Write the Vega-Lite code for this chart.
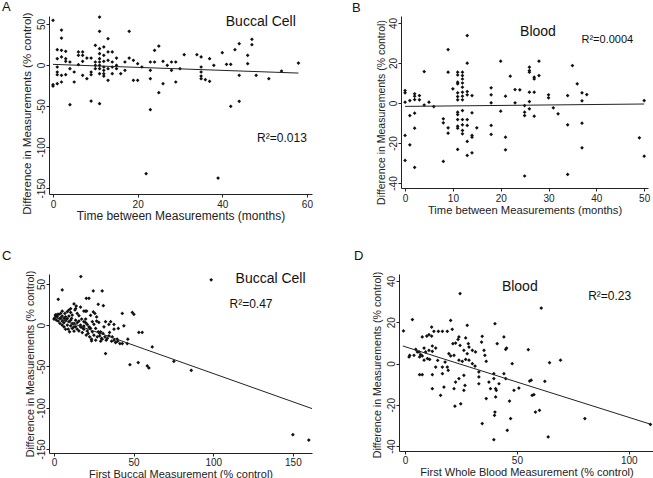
{
"$schema":"https://vega.github.io/schema/vega-lite/v6.json",
"padding":{"left":2,"top":0,"right":0,"bottom":0},
"background":"white",
"config":{
 "view":{"stroke":null},
 "font":"Liberation Sans",
 "axis":{"grid":false,"domainColor":"#222","tickColor":"#222","labelFont":"Liberation Sans","titleFont":"Liberation Sans","labelFontSize":10,"titleFontSize":12,"titleFontWeight":"normal","labelColor":"#222","titleColor":"#222","tickSize":3,"labelExpr":"datum.value + ''"},
 "axisY":{"labelAngle":270,"labelAlign":"center","labelBaseline":"bottom","labelPadding":0,"titleBaseline":"middle","titleAngle":270},
 "axisX":{"titlePadding":1,"labelPadding":2},
 "title":{"font":"Liberation Sans","fontSize":13,"fontWeight":"normal","anchor":"start","frame":"group","color":"#111","baseline":"bottom"},
 "text":{"font":"Liberation Sans","color":"#111"}
},
"datasets":{
"a":[{"x":0,"y":54.5},{"x":0,"y":-24},{"x":0,"y":-25.6},{"x":1,"y":18.7},{"x":1,"y":7.7},{"x":1,"y":-2.4},{"x":1,"y":-8.5},{"x":1,"y":-11.8},{"x":1,"y":-22.8},{"x":2,"y":42.7},{"x":2,"y":32.9},{"x":2,"y":17.9},{"x":2,"y":9.8},{"x":2,"y":-12.6},{"x":2,"y":-20.7},{"x":3,"y":16.7},{"x":3,"y":7.7},{"x":3,"y":4.5},{"x":3,"y":-11.8},{"x":4,"y":3.7},{"x":4,"y":-4.5},{"x":4,"y":-48.4},{"x":5,"y":-8.5},{"x":5,"y":-20.7},{"x":6,"y":0.4},{"x":6,"y":15.9},{"x":6,"y":11.8},{"x":7,"y":15.9},{"x":7,"y":11.8},{"x":7,"y":4.5},{"x":7,"y":-12.6},{"x":8,"y":-16.7},{"x":8,"y":8.5},{"x":9,"y":8.5},{"x":9,"y":-8.5},{"x":9,"y":-11.8},{"x":9,"y":-43.9},{"x":10,"y":24},{"x":10,"y":3.7},{"x":10,"y":-0.4},{"x":10,"y":-4.5},{"x":11,"y":58.5},{"x":11,"y":41.1},{"x":11,"y":19.9},{"x":11,"y":13.8},{"x":11,"y":7.7},{"x":11,"y":3.7},{"x":11,"y":-0.4},{"x":11,"y":-4.5},{"x":11,"y":-10.6},{"x":11,"y":-47.2},{"x":12,"y":22},{"x":12,"y":11.8},{"x":12,"y":4.5},{"x":12,"y":-2.4},{"x":12,"y":-6.5},{"x":12,"y":-10.6},{"x":12,"y":-13.4},{"x":13,"y":32.1},{"x":13,"y":15.9},{"x":13,"y":5.7},{"x":13,"y":-4.5},{"x":13,"y":-18.7},{"x":14,"y":15.9},{"x":14,"y":3.7},{"x":14,"y":-2.4},{"x":14,"y":-10.6},{"x":15,"y":8.5},{"x":15,"y":-0.4},{"x":15,"y":-4.5},{"x":16,"y":-10.6},{"x":17,"y":3.7},{"x":17,"y":-6.5},{"x":18,"y":41.1},{"x":18,"y":8.5},{"x":19,"y":5.7},{"x":19,"y":-18.7},{"x":20,"y":1.6},{"x":20,"y":-18.7},{"x":21,"y":-2.4},{"x":22,"y":-132.5},{"x":23,"y":-16.7},{"x":23,"y":-6.5},{"x":23,"y":3.7},{"x":23,"y":-54.5},{"x":24,"y":17.9},{"x":24,"y":3.7},{"x":25,"y":23.2},{"x":25,"y":-33.7},{"x":26,"y":4.5},{"x":26,"y":-22.8},{"x":27,"y":-0.4},{"x":28,"y":3.7},{"x":28,"y":-6.5},{"x":29,"y":3.7},{"x":29,"y":-20.7},{"x":30,"y":-4.5},{"x":31,"y":12.6},{"x":34,"y":12.6},{"x":35,"y":9.8},{"x":35,"y":-2.4},{"x":35,"y":-8.5},{"x":35,"y":-13.4},{"x":35,"y":-16.7},{"x":36,"y":-17.9},{"x":37,"y":7.7},{"x":37,"y":-19.9},{"x":38,"y":-0.4},{"x":39,"y":-137.8},{"x":40,"y":15},{"x":41,"y":0.8},{"x":42,"y":0.8},{"x":42,"y":-50.4},{"x":43,"y":18.7},{"x":44,"y":26},{"x":44,"y":-12.6},{"x":44,"y":-44.3},{"x":46,"y":11.8},{"x":46,"y":1.6},{"x":47,"y":31.3},{"x":47,"y":24.8},{"x":48,"y":-12.6},{"x":51,"y":-16.7},{"x":54,"y":-7.3},{"x":58,"y":2.4}],
"b":[{"x":0,"y":6.2},{"x":0,"y":5.1},{"x":0,"y":0.4},{"x":0,"y":-16.2},{"x":0,"y":-28.7},{"x":1,"y":1.2},{"x":1,"y":-6.3},{"x":1,"y":-20.9},{"x":2,"y":4.6},{"x":2,"y":3.4},{"x":2,"y":1.7},{"x":2,"y":-5.1},{"x":2,"y":-12.6},{"x":2,"y":-32.2},{"x":3,"y":3.7},{"x":3,"y":1.6},{"x":4,"y":15.7},{"x":4,"y":-1},{"x":5,"y":0.4},{"x":6,"y":-1.8},{"x":8,"y":-7.9},{"x":8,"y":-9.9},{"x":8,"y":-29.2},{"x":9,"y":26.7},{"x":9,"y":15.4},{"x":9,"y":-12.4},{"x":9,"y":-15.1},{"x":10,"y":7.1},{"x":11,"y":15.4},{"x":11,"y":14},{"x":11,"y":10.4},{"x":11,"y":9.6},{"x":11,"y":5.1},{"x":11,"y":3.2},{"x":11,"y":1.6},{"x":11,"y":-4.6},{"x":11,"y":-5.8},{"x":11,"y":-8.3},{"x":11,"y":-11.6},{"x":11,"y":-12.6},{"x":11,"y":-23.2},{"x":12,"y":15.4},{"x":12,"y":13.7},{"x":12,"y":12},{"x":12,"y":10},{"x":12,"y":7.9},{"x":12,"y":5.4},{"x":12,"y":3.4},{"x":12,"y":1.6},{"x":12,"y":-3.8},{"x":12,"y":-8.3},{"x":12,"y":-10.9},{"x":12,"y":-13.7},{"x":12,"y":-15.4},{"x":13,"y":33.7},{"x":13,"y":19.9},{"x":13,"y":5.7},{"x":13,"y":4.1},{"x":13,"y":-8.3},{"x":13,"y":-11.2},{"x":13,"y":-19.2},{"x":13,"y":-26.2},{"x":14,"y":3.7},{"x":14,"y":-4.9},{"x":14,"y":-16.2},{"x":14,"y":-17.1},{"x":14,"y":-24.9},{"x":15,"y":-12.4},{"x":18,"y":7.6},{"x":18,"y":4.1},{"x":18,"y":0.1},{"x":18,"y":-11.2},{"x":18,"y":-15.7},{"x":20,"y":20.9},{"x":20,"y":-4.1},{"x":21,"y":3.4},{"x":21,"y":-17.1},{"x":21,"y":-23.4},{"x":22,"y":13.4},{"x":23,"y":6.7},{"x":23,"y":0.1},{"x":24,"y":6.6},{"x":25,"y":-1.3},{"x":25,"y":-4.6},{"x":25,"y":-6.3},{"x":25,"y":-36.5},{"x":26,"y":17.9},{"x":26,"y":16.2},{"x":26,"y":15.4},{"x":26,"y":5.4},{"x":26,"y":0.7},{"x":26,"y":-2.9},{"x":27,"y":12.9},{"x":27,"y":12},{"x":27,"y":5.4},{"x":27,"y":-6.6},{"x":28,"y":20.9},{"x":28,"y":13.7},{"x":30,"y":4.1},{"x":30,"y":2.6},{"x":31,"y":-2.4},{"x":32,"y":-5.4},{"x":34,"y":3.7},{"x":34,"y":-10.9},{"x":34,"y":-35.7},{"x":35,"y":18.7},{"x":36,"y":9.6},{"x":37,"y":5.1},{"x":37,"y":1.1},{"x":37,"y":-10.1},{"x":37,"y":-22.4},{"x":38,"y":4.2},{"x":49,"y":-17.4},{"x":50,"y":1.2},{"x":50,"y":-26.6}],
"c":[{"x":0.6,"y":9},{"x":1,"y":11.5},{"x":0,"y":7.4},{"x":1.5,"y":6.2},{"x":2.1,"y":10.2},{"x":3.1,"y":13.1},{"x":4.2,"y":14.3},{"x":2.7,"y":5},{"x":3.8,"y":2.1},{"x":5.2,"y":5},{"x":6.3,"y":8.2},{"x":7.3,"y":10.2},{"x":6.9,"y":14.3},{"x":8.4,"y":16.3},{"x":9.4,"y":18.4},{"x":10.5,"y":15.5},{"x":11.5,"y":12.3},{"x":12.6,"y":25.7},{"x":14,"y":23.2},{"x":13.2,"y":18.4},{"x":14.6,"y":14.3},{"x":15.7,"y":11.5},{"x":11.1,"y":8.2},{"x":9.4,"y":4.2},{"x":8.4,"y":0.1},{"x":10.5,"y":-0.7},{"x":12.6,"y":2.1},{"x":13.6,"y":-1.9},{"x":7.3,"y":-4.8},{"x":6.3,"y":-1.9},{"x":5.2,"y":0.1},{"x":15.7,"y":5},{"x":16.7,"y":0.1},{"x":17.8,"y":-3.1},{"x":18.8,"y":-4.8},{"x":14.6,"y":-4.8},{"x":12.6,"y":-7.2},{"x":9.8,"y":-8},{"x":9,"y":-4.8},{"x":11.5,"y":-4},{"x":18.8,"y":17.1},{"x":20.5,"y":17.1},{"x":20.3,"y":32.6},{"x":22,"y":32.6},{"x":17.4,"y":7.4},{"x":18.8,"y":4.2},{"x":19.9,"y":7.4},{"x":20.9,"y":0.9},{"x":22,"y":-1.9},{"x":23,"y":-4},{"x":24.1,"y":4.2},{"x":21.5,"y":-10},{"x":22.4,"y":-14.1},{"x":23.6,"y":-16.9},{"x":25.1,"y":-12.1},{"x":26.2,"y":-18.2},{"x":27.2,"y":-14.1},{"x":24.7,"y":41.5},{"x":25.7,"y":14.3},{"x":26.8,"y":5},{"x":28.2,"y":3.3},{"x":27.8,"y":25.3},{"x":28.7,"y":-10},{"x":29.9,"y":-16.1},{"x":30.8,"y":-10},{"x":29.3,"y":-19.4},{"x":32,"y":-14.1},{"x":32.8,"y":-18.2},{"x":33.5,"y":-16.1},{"x":34.5,"y":-12.9},{"x":36.2,"y":-19.4},{"x":37.7,"y":-18.2},{"x":38.7,"y":-21},{"x":40,"y":-19.4},{"x":41.4,"y":-22.2},{"x":42.9,"y":-22.2},{"x":39.7,"y":-16.9},{"x":36.6,"y":-14.1},{"x":34.9,"y":-8.8},{"x":37.7,"y":-4.8},{"x":37.7,"y":0.9},{"x":40.4,"y":-4},{"x":30.3,"y":41.5},{"x":31,"y":23.6},{"x":32.4,"y":4.2},{"x":34.5,"y":0.9},{"x":35.6,"y":4.2},{"x":32.4,"y":-34.4},{"x":42.9,"y":14.3},{"x":43.9,"y":-0.7},{"x":46,"y":-22.2},{"x":46.4,"y":-16.9},{"x":47.7,"y":-47.8},{"x":49.2,"y":15.5},{"x":50.2,"y":13.1},{"x":52.9,"y":-45.3},{"x":53.3,"y":-8.8},{"x":55.4,"y":-8.8},{"x":58.6,"y":-49.4},{"x":59.6,"y":-51.8},{"x":61.7,"y":-26.3},{"x":75.3,"y":-43.7},{"x":86.2,"y":-54.7},{"x":98.7,"y":54.9},{"x":150,"y":-132.6},{"x":160,"y":-139.1},{"x":5.2,"y":42.7},{"x":2.7,"y":31.3},{"x":16.9,"y":58.9},{"x":31.4,"y":-1.9},{"x":29.3,"y":-8},{"x":1,"y":12.5},{"x":2.1,"y":13},{"x":3.8,"y":8},{"x":4.2,"y":9},{"x":5.2,"y":11},{"x":6.3,"y":3},{"x":7.3,"y":6},{"x":8.4,"y":8},{"x":9.4,"y":11},{"x":10.5,"y":6},{"x":11.5,"y":2},{"x":12.6,"y":-2},{"x":13.6,"y":6},{"x":14.6,"y":3},{"x":16.7,"y":-2},{"x":18.8,"y":-1},{"x":19.9,"y":3},{"x":20.9,"y":-7},{"x":22.4,"y":-3},{"x":24.1,"y":-8},{"x":25.1,"y":1},{"x":26.2,"y":-4},{"x":27.8,"y":-8},{"x":28.7,"y":-13},{"x":30.3,"y":-17},{"x":16.7,"y":22},{"x":19.9,"y":17},{"x":23,"y":12},{"x":24.7,"y":16},{"x":26.8,"y":10},{"x":13.6,"y":20},{"x":10.5,"y":20},{"x":5.2,"y":17},{"x":23.6,"y":-19},{"x":20.3,"y":-12},{"x":17.8,"y":-9},{"x":15.7,"y":-7}],
"d":[{"x":-0.7,"y":15.8},{"x":3.3,"y":21.3},{"x":2.1,"y":4},{"x":4.8,"y":6.9},{"x":5.5,"y":5.6},{"x":6.3,"y":5.6},{"x":7,"y":4.3},{"x":7.7,"y":3.7},{"x":6.5,"y":3.2},{"x":4,"y":4},{"x":8.5,"y":7.5},{"x":7.7,"y":12.9},{"x":9.7,"y":13.3},{"x":10.7,"y":14},{"x":11.9,"y":13.3},{"x":11.9,"y":17.7},{"x":12.9,"y":15.6},{"x":14.9,"y":15.6},{"x":16.7,"y":15.6},{"x":18.9,"y":15.6},{"x":20.4,"y":20.9},{"x":21.1,"y":16.6},{"x":23.7,"y":11.7},{"x":24.1,"y":12.9},{"x":24.6,"y":33.9},{"x":27.1,"y":12.4},{"x":27.8,"y":18.5},{"x":28.3,"y":9.6},{"x":28.6,"y":8},{"x":21.4,"y":9.6},{"x":22.6,"y":9.9},{"x":24.6,"y":8.8},{"x":12.2,"y":8.5},{"x":13.7,"y":7.5},{"x":9.2,"y":5.6},{"x":10.7,"y":6.4},{"x":12.2,"y":5.9},{"x":19.6,"y":4.8},{"x":20.4,"y":3.7},{"x":21.9,"y":4},{"x":24.1,"y":1.6},{"x":25.6,"y":1.1},{"x":27.1,"y":2},{"x":28.6,"y":1.6},{"x":30.1,"y":-0.1},{"x":31.3,"y":-1.2},{"x":33,"y":-4.1},{"x":33,"y":-6.5},{"x":34.2,"y":10.4},{"x":34.5,"y":13.2},{"x":35.3,"y":6.4},{"x":35.7,"y":4},{"x":36.3,"y":1.1},{"x":39.7,"y":-4.9},{"x":39.7,"y":-7.3},{"x":40.5,"y":-12.2},{"x":40.8,"y":-13},{"x":40.5,"y":-16.2},{"x":40.2,"y":19.3},{"x":41.2,"y":9.6},{"x":34.5,"y":-29.1},{"x":36.3,"y":-17},{"x":40,"y":-25.1},{"x":40.2,"y":-23.5},{"x":39.7,"y":-36.9},{"x":42,"y":-9.8},{"x":44.2,"y":12.9},{"x":44.2,"y":-4.9},{"x":45,"y":-7.3},{"x":45,"y":6.9},{"x":45.4,"y":7.5},{"x":45.7,"y":-32.4},{"x":46.7,"y":-18.2},{"x":47.2,"y":-26.7},{"x":47.9,"y":-0.1},{"x":48.7,"y":-13},{"x":50.9,"y":-11.9},{"x":55.1,"y":6.7},{"x":55.7,"y":-8.5},{"x":56.4,"y":-8.1},{"x":56.8,"y":-15.4},{"x":57.6,"y":-15.1},{"x":58.3,"y":-23.5},{"x":60.1,"y":-22.7},{"x":60.9,"y":26.9},{"x":62.5,"y":-8.6},{"x":64,"y":-35.6},{"x":64.6,"y":0.4},{"x":69.5,"y":1.6},{"x":80.4,"y":-26.7},{"x":109.7,"y":-29.5},{"x":6.5,"y":-5.4},{"x":7.7,"y":-5.4},{"x":12.2,"y":-5.4},{"x":12.2,"y":-12.2},{"x":16.7,"y":-4.9},{"x":16.7,"y":-1.7},{"x":15.9,"y":-15.4},{"x":17.4,"y":-11.4},{"x":21.9,"y":-12.2},{"x":22.6,"y":-9},{"x":22.3,"y":-20.7},{"x":24.9,"y":-19.5},{"x":26.3,"y":-13},{"x":26.8,"y":-10.6},{"x":19.3,"y":-3.3},{"x":13.7,"y":-1.7},{"x":14.6,"y":1.5},{"x":11,"y":2},{"x":17.9,"y":0.7},{"x":18.9,"y":-1.7},{"x":26.3,"y":-5.7},{"x":24.1,"y":-7.3},{"x":1.8,"y":3.2},{"x":8.5,"y":1.6},{"x":10,"y":2.4},{"x":37.5,"y":-9},{"x":38.2,"y":-12.2},{"x":33,"y":-9.8},{"x":31.5,"y":5.6},{"x":30.1,"y":6.4},{"x":26.3,"y":6.4},{"x":27.8,"y":4.8}]
},
"vconcat":[
 {"hconcat":[
  {"width":263,"height":178,
   "title":{"text":"A","dx":-47,"offset":-2},
   "layer":[
    {"data":{"name":"a"},"mark":{"type":"point","shape":"diamond","filled":true,"size":14,"color":"#111","opacity":1},
     "encoding":{"x":{"field":"x","type":"quantitative","scale":{"domain":[-0.95,61.2],"nice":false,"zero":false},"axis":{"values":[0,20,40,60],"title":"Time between Measurements (months)"}},
                 "y":{"field":"y","type":"quantitative","scale":{"domain":[-157.3,59.8],"nice":false,"zero":false},"axis":{"values":[50,0,-50,-100,-150],"title":"Difference in Measurements (% control)","titleFontSize":11.5,"titleY":97,"titleX":-22}}}},
    {"data":{"values":[{"x":0,"y":0.8},{"x":58,"y":-9.8}]},"mark":{"type":"line","color":"#222","strokeWidth":1},
     "encoding":{"x":{"field":"x","type":"quantitative"},"y":{"field":"y","type":"quantitative"}}},
    {"data":{"values":[{"x":49.1,"y":52.4,"label":"Buccal Cell"}]},"mark":{"type":"text","fontSize":14,"align":"center","baseline":"middle"},
     "encoding":{"x":{"field":"x","type":"quantitative"},"y":{"field":"y","type":"quantitative"},"text":{"field":"label"}}},
    {"data":{"values":[{"x":54.1,"y":-89,"label":"R²=0.013"}]},"mark":{"type":"text","fontSize":12,"align":"center","baseline":"middle"},
     "encoding":{"x":{"field":"x","type":"quantitative"},"y":{"field":"y","type":"quantitative"},"text":{"field":"label"}}}
   ]},
  {"width":247,"height":172,
   "title":{"text":"B","dx":-49,"offset":0.8},
   "layer":[
    {"data":{"name":"b"},"mark":{"type":"point","shape":"diamond","filled":true,"size":14,"color":"#111","opacity":1},
     "encoding":{"x":{"field":"x","type":"quantitative","scale":{"domain":[-0.85,50.8],"nice":false,"zero":false},"axis":{"values":[0,10,20,30,40,50],"title":"Time between Measurements (months)","titleFontSize":11.2}},
                 "y":{"field":"y","type":"quantitative","scale":{"domain":[-42.5,43.5],"nice":false,"zero":false},"axis":{"values":[40,20,0,-20,-40],"title":"Difference in Measurements (% control)","titleFontSize":10.5,"titleY":96,"titleX":-20}}}},
    {"data":{"values":[{"x":0,"y":-1.7},{"x":50,"y":-0.5}]},"mark":{"type":"line","color":"#222","strokeWidth":1},
     "encoding":{"x":{"field":"x","type":"quantitative"},"y":{"field":"y","type":"quantitative"}}},
    {"data":{"values":[{"x":27.8,"y":35.5,"label":"Blood"}]},"mark":{"type":"text","fontSize":14,"align":"center","baseline":"middle"},
     "encoding":{"x":{"field":"x","type":"quantitative"},"y":{"field":"y","type":"quantitative"},"text":{"field":"label"}}},
    {"data":{"values":[{"x":42.3,"y":31.5,"label":"R²=0.0004"}]},"mark":{"type":"text","fontSize":11,"align":"center","baseline":"middle"},
     "encoding":{"x":{"field":"x","type":"quantitative"},"y":{"field":"y","type":"quantitative"},"text":{"field":"label"}}}
   ]}
 ],"spacing":39},
 {"hconcat":[
  {"width":263,"height":179,
   "title":{"text":"C","dx":-47,"offset":7.3},
   "layer":[
    {"data":{"name":"c"},"mark":{"type":"point","shape":"diamond","filled":true,"size":14,"color":"#111","opacity":1},
     "encoding":{"x":{"field":"x","type":"quantitative","scale":{"domain":[-3.1,162],"nice":false,"zero":false},"axis":{"values":[0,50,100,150],"title":"First Buccal Measurement (% control)","titleFontSize":11,"labelPadding":1,"titlePadding":1}},
                 "y":{"field":"y","type":"quantitative","scale":{"domain":[-154.8,62],"nice":false,"zero":false},"axis":{"values":[50,0,-50,-100,-150],"title":"Difference in Measurements (% control)","titleFontSize":10.6,"titleY":89.5,"titleX":-19}}}},
    {"data":{"values":[{"x":0,"y":10},{"x":162,"y":-101}]},"mark":{"type":"line","color":"#222","strokeWidth":1},
     "encoding":{"x":{"field":"x","type":"quantitative"},"y":{"field":"y","type":"quantitative"}}},
    {"data":{"values":[{"x":136,"y":56,"label":"Buccal Cell"}]},"mark":{"type":"text","fontSize":14,"align":"center","baseline":"middle"},
     "encoding":{"x":{"field":"x","type":"quantitative"},"y":{"field":"y","type":"quantitative"},"text":{"field":"label"}}},
    {"data":{"values":[{"x":123.7,"y":25.8,"label":"R²=0.47"}]},"mark":{"type":"text","fontSize":12,"align":"center","baseline":"middle"},
     "encoding":{"x":{"field":"x","type":"quantitative"},"y":{"field":"y","type":"quantitative"},"text":{"field":"label"}}}
   ]},
  {"width":255,"height":177,
   "title":{"text":"D","dx":-45,"offset":8.3},
   "layer":[
    {"data":{"name":"d"},"mark":{"type":"point","shape":"diamond","filled":true,"size":14,"color":"#111","opacity":1},
     "encoding":{"x":{"field":"x","type":"quantitative","scale":{"domain":[-2.7,111.3],"nice":false,"zero":false},"axis":{"values":[0,50,100],"title":"First Whole Blood Measurement (% control)","titleFontSize":11,"labelPadding":1,"titlePadding":1}},
                 "y":{"field":"y","type":"quantitative","scale":{"domain":[-42.4,43.4],"nice":false,"zero":false},"axis":{"values":[40,20,0,-20,-40],"title":"Difference in Measurements (% control)","titleFontSize":10.6,"titleY":90.5,"titleX":-21.5}}}},
    {"data":{"values":[{"x":-1,"y":8.5},{"x":110,"y":-29.5}]},"mark":{"type":"line","color":"#222","strokeWidth":1},
     "encoding":{"x":{"field":"x","type":"quantitative"},"y":{"field":"y","type":"quantitative"}}},
    {"data":{"values":[{"x":51.3,"y":37.1,"label":"Blood"}]},"mark":{"type":"text","fontSize":14,"align":"center","baseline":"middle"},
     "encoding":{"x":{"field":"x","type":"quantitative"},"y":{"field":"y","type":"quantitative"},"text":{"field":"label"}}},
    {"data":{"values":[{"x":91.5,"y":32.7,"label":"R²=0.23"}]},"mark":{"type":"text","fontSize":12,"align":"center","baseline":"middle"},
     "encoding":{"x":{"field":"x","type":"quantitative"},"y":{"field":"y","type":"quantitative"},"text":{"field":"label"}}}
   ]}
 ],"spacing":40}
],
"spacing":28
}
